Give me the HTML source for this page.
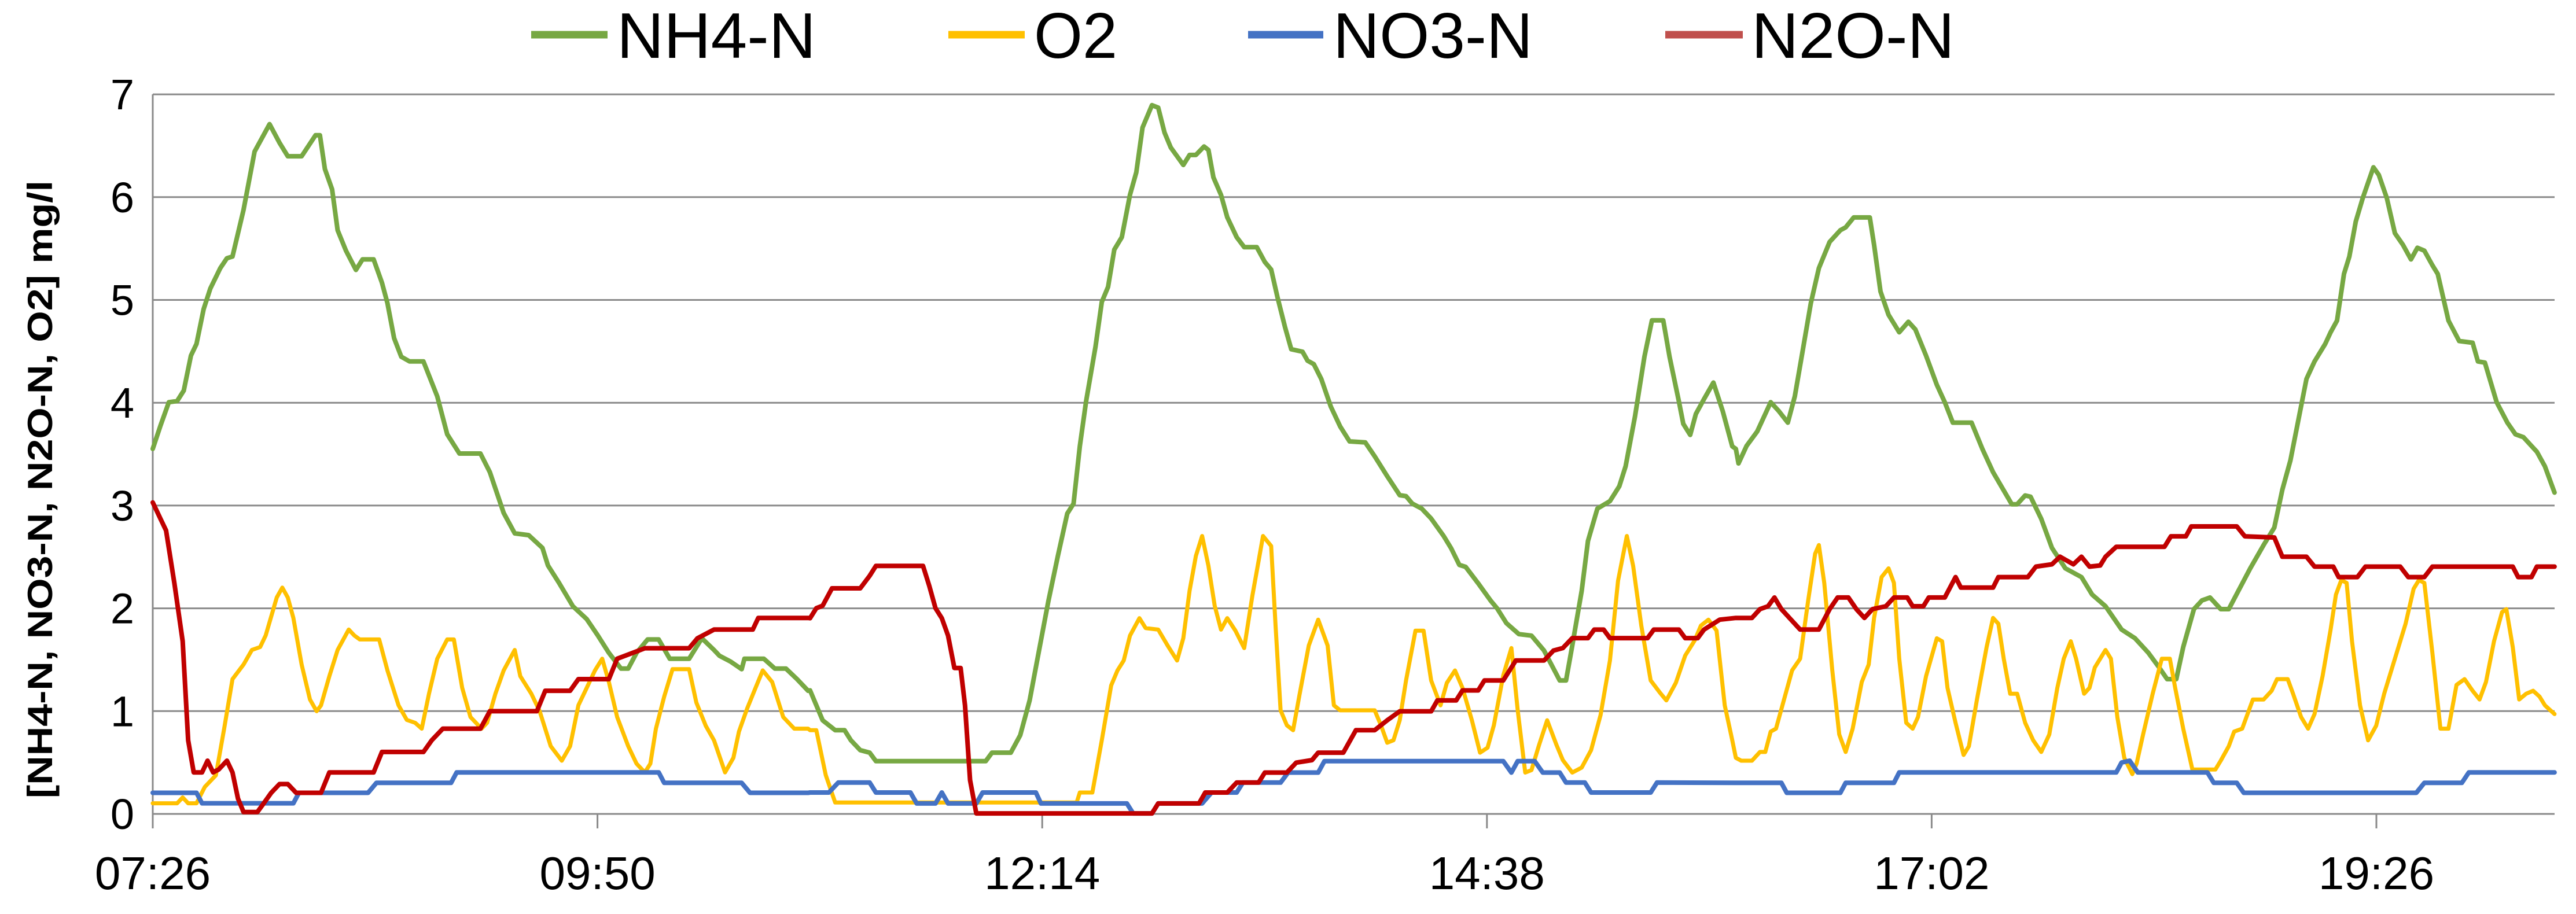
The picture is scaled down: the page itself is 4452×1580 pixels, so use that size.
<!DOCTYPE html>
<html><head><meta charset="utf-8"><style>
html,body{margin:0;padding:0;background:#fff;}
svg{display:block;}
text{font-family:"Liberation Sans",sans-serif;fill:#000;}
</style></head><body>
<svg id="s" width="4452" height="1580" viewBox="0 0 4452 1580" xmlns="http://www.w3.org/2000/svg">
<rect width="4452" height="1580" fill="#fff"/>
<g id="grid" stroke="#8a8a8a" stroke-width="3"></g>
<g id="lbl" font-size="74"></g>
<g id="series" fill="none" stroke-linejoin="round" stroke-linecap="round"></g>
<!-- legend -->
<line x1="918" y1="60" x2="1050" y2="60" stroke="#77A843" stroke-width="13"/>
<text x="1066" y="100" font-size="111" textLength="344" lengthAdjust="spacingAndGlyphs">NH4-N</text>
<line x1="1639" y1="60" x2="1771" y2="60" stroke="#FFC000" stroke-width="13"/>
<text x="1787" y="100" font-size="111" textLength="144" lengthAdjust="spacingAndGlyphs">O2</text>
<line x1="2157" y1="60" x2="2287" y2="60" stroke="#4472C4" stroke-width="13"/>
<text x="2304" y="100" font-size="111" textLength="345" lengthAdjust="spacingAndGlyphs">NO3-N</text>
<line x1="2878" y1="60" x2="3012" y2="60" stroke="#C0504D" stroke-width="13"/>
<text x="3027" y="100" font-size="111" textLength="351" lengthAdjust="spacingAndGlyphs">N2O-N</text>
<text transform="translate(90,846) rotate(-90)" text-anchor="middle" font-size="60" font-weight="bold" textLength="1068" lengthAdjust="spacingAndGlyphs">[NH4-N, NO3-N, N2O-N, O2] mg/l</text>
</svg>
<script>
var NS="http://www.w3.org/2000/svg";
function el(t,a,p){var e=document.createElementNS(NS,t);for(var k in a)e.setAttribute(k,a[k]);p.appendChild(e);return e;}
var grid=document.getElementById('grid'),lbl=document.getElementById('lbl'),ser=document.getElementById('series');
var X0=264,XR=4415,Y0=1407,U=177.7,TS=768.6;
for(var k=0;k<=7;k++){var y=Y0-k*U;el('line',{x1:X0,y1:y,x2:XR,y2:y},grid);
 var t=el('text',{x:232,y:y+26,'text-anchor':'end'},lbl);t.textContent=k;}
el('line',{x1:X0,y1:163,x2:X0,y2:Y0+25},grid);
var labs=['07:26','09:50','12:14','14:38','17:02','19:26'];
for(var i=0;i<6;i++){var x=X0+i*TS;el('line',{x1:x,y1:Y0,x2:x,y2:Y0+25},grid);
 var t=el('text',{x:x,y:1537,'text-anchor':'middle','font-size':80},lbl);t.textContent=labs[i];}
function conv(z1,z3,z2){var out=[];var i;
 for(i=0;i<z1.length;i+=2){var X=z1[i]*0.9566;if(X<1400)out.push([X,z1[i+1]*1.0077]);}
 for(i=0;i<z3.length;i+=2){var X=1400+z3[i]*1.0842;if(X>=1400&&X<3000)out.push([X,100+z3[i+1]*0.861]);}
 for(i=0;i<z2.length;i+=2){var X=3000+z2[i]*0.926;if(X>=3000)out.push([X,z2[i+1]*1.0077]);}
 return out.map(function(p){return p[0].toFixed(1)+','+p[1].toFixed(1)}).join(' ');}
var green=conv(
[276,770,290,730,305,690,320,688,332,670,345,610,355,590,368,530,380,495,398,460,410,443,420,440,440,360,460,260,487,213,505,245,520,268,545,268,570,232,578,232,587,290,600,325,610,395,625,430,643,463,655,445,675,445,690,485,700,520,712,580,725,612,740,620,765,620,790,680,808,745,830,778,868,778,885,810,910,880,930,915,955,918,980,940,990,970,1010,1000,1035,1040,1060,1062,1080,1090,1100,1120,1122,1147,1135,1147,1150,1120,1170,1097,1190,1097,1210,1130,1245,1130,1268,1095,1290,1115,1300,1125,1320,1135,1340,1148,1345,1130,1380,1130,1400,1147,1420,1147,1440,1165,1460,1185],
[0,1270,20,1330,40,1350,55,1350,65,1370,80,1390,95,1395,105,1412,280,1412,290,1395,320,1395,335,1360,350,1290,365,1190,380,1090,395,1000,410,915,420,895,430,780,440,690,455,580,465,490,475,460,485,385,497,360,510,275,520,230,530,140,545,95,555,100,565,150,575,180,595,215,605,195,615,195,628,178,635,185,643,240,655,275,665,320,680,360,692,380,712,380,725,410,735,425,745,480,757,540,767,585,785,590,793,608,803,615,815,645,830,700,845,740,860,770,885,772,900,800,920,840,940,878,950,880,960,895,975,905,990,925,1010,960,1022,985,1035,1018,1045,1022,1065,1055,1085,1090,1095,1105,1110,1135,1130,1157,1150,1160,1170,1190,1195,1250,1205,1250,1215,1180,1230,1070,1240,970,1255,905,1275,890,1290,860,1300,820,1315,720,1330,600,1342,527,1360,527,1370,600,1385,690,1392,735,1403,757,1412,715,1425,685,1440,652,1455,710,1470,780,1480,818,1495,790,1510,760,1530,695,1545,700,1557,735,1568,690],
[0,770,5,795,20,765,40,740,65,690,80,705,97,725,110,680,125,600,140,520,155,460,175,415,195,395,205,390,220,373,250,373,258,420,270,500,285,540,305,570,322,552,335,565,355,610,375,660,390,690,405,725,440,725,460,770,480,810,515,865,525,865,540,850,550,852,570,890,590,940,615,975,645,990,665,1020,690,1040,720,1080,745,1095,770,1120,790,1145,805,1165,822,1165,835,1110,855,1045,870,1030,885,1025,905,1045,920,1045,940,1010,960,975,985,935,1005,905,1020,840,1035,790,1050,720,1065,650,1080,620,1100,590,1110,570,1122,550,1135,470,1145,440,1157,380,1170,340,1190,287,1200,300,1215,340,1230,400,1245,420,1260,445,1272,425,1285,430,1300,455,1310,470,1330,550,1350,585,1375,588,1385,620,1398,622,1420,690,1440,725,1455,745,1470,750,1480,760,1495,775,1510,800,1528,845]);
var yellow=conv(
[276,1378,320,1378,330,1368,340,1378,355,1378,370,1350,390,1330,405,1250,420,1165,440,1140,455,1115,470,1110,480,1090,500,1025,510,1008,520,1025,530,1060,545,1140,560,1200,572,1220,580,1210,595,1160,610,1115,630,1080,640,1090,650,1097,685,1097,700,1150,720,1210,735,1235,750,1240,762,1250,775,1190,790,1130,808,1097,820,1097,835,1180,850,1230,870,1250,880,1240,895,1190,910,1150,930,1115,940,1160,960,1190,975,1220,995,1280,1015,1305,1030,1280,1045,1210,1060,1180,1075,1150,1088,1130,1100,1170,1115,1230,1135,1280,1150,1310,1165,1325,1175,1310,1185,1250,1200,1195,1215,1148,1245,1148,1258,1205,1275,1245,1290,1270,1310,1325,1325,1300,1335,1255,1350,1215,1365,1180,1378,1150,1395,1170,1415,1230,1435,1250,1460,1250],
[0,1350,10,1350,25,1440,40,1495,425,1495,430,1475,450,1475,465,1370,480,1260,490,1230,500,1210,510,1160,525,1125,535,1145,555,1148,570,1180,585,1210,595,1165,605,1070,615,1000,625,960,635,1020,645,1100,655,1148,665,1125,678,1150,692,1185,705,1080,715,1010,722,960,735,980,742,1140,750,1310,760,1340,770,1350,780,1280,795,1180,810,1128,825,1180,835,1300,845,1310,900,1310,910,1340,920,1375,930,1370,940,1330,950,1250,965,1150,978,1150,990,1250,1005,1300,1015,1255,1028,1230,1040,1265,1055,1330,1068,1395,1080,1385,1090,1340,1105,1240,1118,1185,1128,1310,1140,1435,1150,1430,1162,1380,1175,1330,1190,1380,1200,1410,1215,1435,1230,1425,1245,1390,1260,1320,1275,1210,1288,1050,1302,960,1312,1020,1325,1140,1340,1250,1355,1275,1365,1290,1380,1255,1395,1200,1410,1170,1420,1140,1432,1128,1445,1150,1458,1300,1470,1370,1482,1412,1500,1412,1510,1395,1520,1395,1530,1350,1545,1320,1560,1270,1568,1240],
[0,1300,10,1305,30,1305,45,1290,55,1290,65,1255,75,1250,90,1200,105,1150,120,1130,135,1030,148,950,155,935,165,1000,180,1150,193,1260,205,1290,218,1250,235,1170,248,1140,258,1060,272,990,285,975,295,1000,305,1130,318,1240,330,1250,340,1230,355,1160,375,1095,385,1100,395,1180,410,1240,425,1295,435,1280,450,1200,468,1110,480,1060,490,1070,500,1130,512,1190,525,1190,540,1240,555,1270,570,1290,585,1260,600,1180,612,1130,625,1100,635,1130,650,1190,660,1180,670,1145,690,1115,700,1130,712,1230,725,1300,740,1328,748,1310,760,1260,778,1190,795,1130,810,1130,820,1180,835,1250,852,1320,895,1320,905,1305,920,1280,930,1255,945,1250,955,1225,965,1200,985,1200,1000,1185,1010,1165,1030,1165,1040,1190,1055,1230,1068,1250,1080,1225,1095,1160,1110,1080,1120,1020,1130,995,1140,1000,1150,1100,1165,1210,1180,1270,1195,1245,1210,1190,1230,1130,1250,1070,1265,1010,1275,995,1285,1000,1300,1120,1315,1250,1330,1250,1345,1175,1360,1165,1375,1185,1388,1200,1400,1170,1415,1100,1430,1050,1438,1045,1450,1110,1462,1200,1475,1190,1488,1185,1500,1195,1510,1210,1528,1225]);
var blue=conv(
[276,1360,355,1360,365,1378,530,1378,540,1360,665,1360,680,1343,815,1343,825,1325,1190,1325,1200,1343,1340,1343,1355,1360,1460,1360],
[0,1475,30,1475,45,1455,95,1455,105,1475,160,1475,170,1497,200,1497,210,1475,220,1497,265,1497,275,1475,360,1475,368,1497,505,1497,515,1517,545,1517,555,1497,625,1497,640,1475,680,1475,690,1455,750,1455,762,1435,810,1435,820,1412,1105,1412,1118,1435,1128,1412,1155,1412,1168,1435,1195,1435,1205,1455,1235,1455,1245,1475,1340,1475,1350,1455,1550,1455,1560,1475,1568,1475],
[0,1343,85,1343,95,1360,195,1360,205,1343,295,1343,305,1325,710,1325,720,1308,735,1305,750,1325,880,1325,892,1343,935,1343,948,1360,1270,1360,1285,1343,1355,1343,1368,1325,1528,1325]);
var red=conv(
[276,862,290,890,300,910,315,1000,330,1100,340,1270,350,1325,365,1325,375,1305,385,1325,395,1320,410,1305,420,1325,430,1370,440,1393,465,1393,475,1380,490,1360,505,1345,520,1345,535,1360,580,1360,595,1325,675,1325,690,1290,765,1290,780,1270,800,1250,868,1250,885,1220,970,1220,985,1185,1030,1185,1045,1165,1100,1165,1115,1130,1165,1112,1245,1112,1260,1095,1290,1080,1360,1080,1370,1060,1460,1060],
[0,1125,10,1105,20,1100,35,1065,80,1065,95,1040,105,1020,180,1020,190,1060,200,1105,210,1125,220,1160,230,1225,240,1225,247,1300,255,1450,265,1517,545,1517,555,1497,620,1497,630,1475,665,1475,680,1455,715,1455,725,1435,760,1435,775,1415,800,1410,810,1395,850,1395,870,1350,900,1350,920,1330,940,1312,990,1312,1000,1290,1030,1290,1040,1270,1065,1270,1075,1250,1105,1250,1125,1210,1170,1210,1185,1190,1200,1185,1215,1165,1240,1165,1250,1148,1265,1148,1275,1165,1335,1165,1345,1148,1385,1148,1395,1165,1415,1165,1425,1148,1450,1128,1510,1128,1525,1105,1537,1085,1555,1100,1568,1125],
[0,1060,30,1060,45,1045,60,1040,72,1025,85,1045,100,1060,120,1080,155,1080,175,1045,190,1025,210,1025,225,1045,240,1060,255,1045,280,1040,295,1025,320,1025,330,1040,350,1040,360,1025,390,1025,410,990,420,1008,480,1008,490,990,545,990,560,972,590,968,605,955,630,968,645,955,660,972,680,970,690,955,710,938,800,938,812,920,840,920,850,903,935,903,950,920,1005,922,1020,955,1065,955,1080,972,1115,972,1125,990,1160,990,1175,972,1240,972,1255,990,1285,990,1300,972,1450,972,1460,990,1485,990,1495,972,1528,972]);
el('polyline',{points:green,stroke:'#77A843','stroke-width':8},ser);
el('polyline',{points:yellow,stroke:'#FFC000','stroke-width':7},ser);
el('polyline',{points:blue,stroke:'#4472C4','stroke-width':8},ser);
el('polyline',{points:red,stroke:'#C00000','stroke-width':8},ser);
</script>
</body></html>
